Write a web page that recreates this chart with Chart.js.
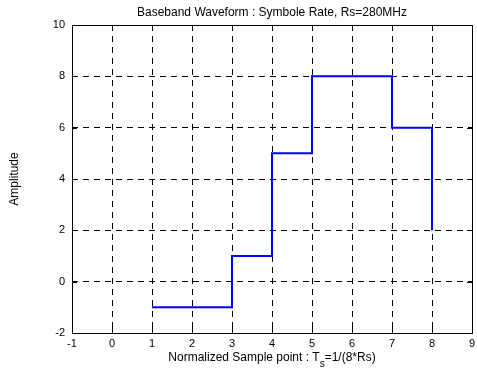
<!DOCTYPE html>
<html><head><meta charset="utf-8">
<script src="https://cdn.jsdelivr.net/npm/chart.js@4/dist/chart.umd.min.js"></script>
<style>html,body{margin:0;padding:0;background:#fff}#w{width:477px;height:371px}</style>
</head><body><div id="w"><canvas id="c" width="477" height="371"></canvas></div>
<script>
const samplePoints = [1, 2, 3, 4, 5, 6, 7, 8];
const amplitudes = [-1, -1, 1, 5, 8, 8, 6, 2];
const xRange = [-1, 9];
const yRange = [-2, 10];
const titleText = 'Baseband Waveform : Symbole Rate, Rs=280MHz';
const xTitleMain = 'Normalized Sample point : T';
const xTitleSub = 's';
const xTitleTail = '=1/(8*Rs)';
const yTitleText = 'Amplitude';

const FONT = "'Liberation Sans', Arial, sans-serif";

const framePlugin = {
  id: 'frame',
  afterDraw(chart) {
    const {ctx, chartArea: a, scales} = chart;
    ctx.save();
    ctx.strokeStyle = '#000'; ctx.lineWidth = 1; ctx.setLineDash([]);
    const tl = 5;
    scales.x.ticks.forEach(t => {
      const px = Math.round(scales.x.getPixelForValue(t.value)) + 0.5;
      ctx.beginPath();
      ctx.moveTo(px, a.bottom); ctx.lineTo(px, a.bottom - tl);
      ctx.moveTo(px, a.top); ctx.lineTo(px, a.top + tl);
      ctx.stroke();
    });
    scales.y.ticks.forEach(t => {
      const py = Math.round(scales.y.getPixelForValue(t.value)) + 0.5;
      ctx.beginPath();
      ctx.moveTo(a.left, py); ctx.lineTo(a.left + tl, py);
      ctx.moveTo(a.right, py); ctx.lineTo(a.right - tl, py);
      ctx.stroke();
    });
    ctx.strokeRect(Math.round(a.left) + 0.5, Math.round(a.top) + 0.5,
                   Math.round(a.right - a.left), Math.round(a.bottom - a.top));
    ctx.fillStyle = '#000';
    ctx.textBaseline = 'middle';
    ctx.textAlign = 'left';
    ctx.font = '12px ' + FONT;
    const w1 = ctx.measureText(xTitleMain).width;
    const w3 = ctx.measureText(xTitleTail).width;
    ctx.font = '10px ' + FONT;
    const w2 = ctx.measureText(xTitleSub).width;
    const cx = (a.left + a.right) / 2;
    let x = cx - (w1 + w2 + w3) / 2;
    const y = 358;
    ctx.font = '12px ' + FONT;
    ctx.fillText(xTitleMain, x, y); x += w1;
    ctx.font = '10px ' + FONT;
    ctx.fillText(xTitleSub, x, y + 6); x += w2;
    ctx.font = '12px ' + FONT;
    ctx.fillText(xTitleTail, x, y);
    ctx.translate(15, (a.top + a.bottom) / 2);
    ctx.rotate(-Math.PI / 2);
    ctx.textAlign = 'center';
    ctx.fillText(yTitleText, 0, 0);
    ctx.restore();
  }
};

new Chart(document.getElementById('c'), {
  type: 'line',
  data: {
    datasets: [{
      data: samplePoints.map((x, i) => ({x, y: amplitudes[i]})),
      borderColor: '#0000ff',
      borderWidth: 2,
      stepped: 'before',
      pointRadius: 0,
      fill: false,
      tension: 0
    }]
  },
  options: {
    responsive: false,
    devicePixelRatio: 1,
    animation: false,
    layout: {padding: {left: 0, right: 0, top: 0, bottom: 0}},
    plugins: {
      legend: {display: false},
      tooltip: {enabled: false},
      title: {
        display: true,
        text: titleText,
        fullSize: false,
        color: '#000',
        font: {family: FONT, size: 12, weight: 'normal', lineHeight: 1.2},
        padding: {top: 5, bottom: 5.6}
      }
    },
    scales: {
      x: {
        type: 'linear',
        min: xRange[0], max: xRange[1],
        ticks: {stepSize: 1, color: '#000', font: {family: FONT, size: 11}, padding: 4, maxRotation: 0},
        grid: {color: '#000', lineWidth: 1, drawTicks: false},
        border: {display: false, dash: [6, 5]},
        afterFit(s) { s.height = 38; s.paddingRight = 5; }
      },
      y: {
        type: 'linear',
        min: yRange[0], max: yRange[1],
        ticks: {stepSize: 2, color: '#000', font: {family: FONT, size: 11}, padding: 7},
        grid: {color: '#000', lineWidth: 1, drawTicks: false},
        border: {display: false, dash: [6, 5]},
        afterFit(s) { s.width = 72; }
      }
    }
  },
  plugins: [framePlugin]
});
</script></body></html>
